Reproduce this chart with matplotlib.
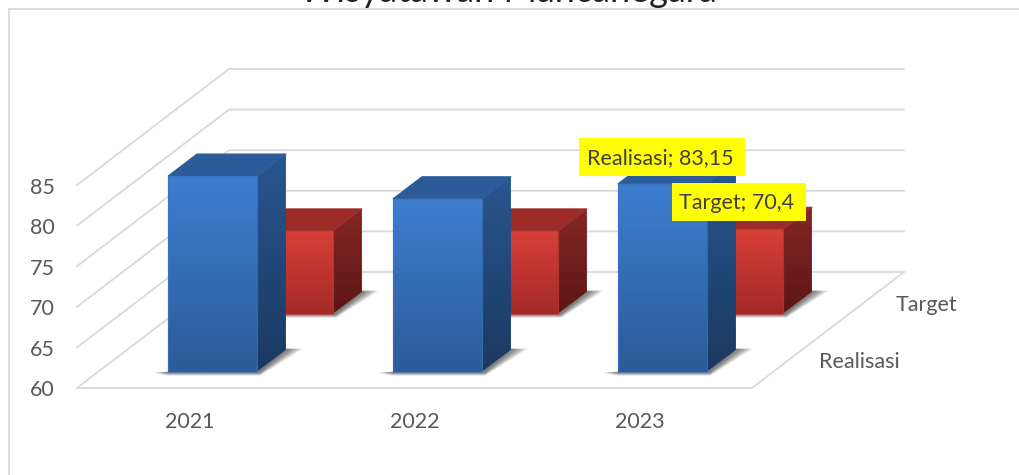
import numpy as np
import matplotlib
matplotlib.use('Agg')
import matplotlib.pyplot as plt
from matplotlib.patches import Polygon, Rectangle

plt.rcParams['font.family'] = ['Lato', 'DejaVu Sans']

years = ['2021', '2022', '2023']
realisasi = [84.1, 81.3, 83.15]
target = [70.2, 70.2, 70.4]
series_names = ['Realisasi', 'Target']
y_ticks = [60, 65, 70, 75, 80, 85]

# oblique 3d box -> pixels
X0, Y0 = 77, 388
CAT_W = 225
PX_PER_UNIT = 8.12
DEPTH_X, DEPTH_Y = 76, 58
BAR_W = 89 / 225
BAR_D = 22 / 58


def proj(cat, val, depth):
    x = X0 + cat * CAT_W + depth * DEPTH_X
    y = Y0 - (val - y_ticks[0]) * PX_PER_UNIT - depth * DEPTH_Y
    return x, y


def grad_poly(ax, pts, c_top, c_bot, z):
    pts = np.array(pts)
    top = np.array(matplotlib.colors.to_rgb(c_top))
    bot = np.array(matplotlib.colors.to_rgb(c_bot))
    t = np.linspace(0, 1, 64)[:, None, None]
    img = top[None, None, :] * (1 - t) + bot[None, None, :] * t
    im = ax.imshow(img, extent=(pts[:, 0].min(), pts[:, 0].max(), pts[:, 1].max(), pts[:, 1].min()),
                   aspect='auto', zorder=z, interpolation='bilinear')
    clip = Polygon(pts, closed=True, transform=ax.transData, fc='none', ec='none')
    ax.add_patch(clip)
    im.set_clip_path(clip)


def bar(ax, i, val, slot, cols, z):
    c0 = i + 0.5 - BAR_W / 2 + 0.008
    c1 = c0 + BAR_W
    d0 = slot + (1 - BAR_D) / 2 - 0.03
    d1 = d0 + BAR_D
    v0 = y_ticks[0]

    # shadow on the floor, a few soft layers
    a = proj(c1, v0, d0)
    b = proj(c1, v0, d1)
    l = proj(c0, v0, d0)
    for k in np.linspace(1, 0.1, 12):
        ax.add_patch(Polygon([a, (b[0], b[1] - 1), (b[0] + 17 * k, b[1] - 1), (a[0] + 3, a[1] + 4 * k),
                              (l[0], l[1] + 4 * k), (l[0] - 16 * k, l[1] + 1 * k), l],
                             fc='#303030', ec='none', alpha=0.075, zorder=z))

    # side, top, front
    grad_poly(ax, [proj(c1, v0, d0), proj(c1, v0, d1), proj(c1, val, d1), proj(c1, val, d0)],
              cols['side_top'], cols['side_bot'], z + 0.1)
    ax.add_patch(Polygon([proj(c0, val, d0), proj(c1, val, d0), proj(c1, val, d1), proj(c0, val, d1)],
                         fc=cols['top'], ec=cols['top'], lw=0.8, joinstyle='round', zorder=z + 0.2))
    grad_poly(ax, [proj(c0, v0, d0), proj(c1, v0, d0), proj(c1, val, d0), proj(c0, val, d0)],
              cols['front_top'], cols['front_bot'], z + 0.3)
    # bevel edge on the front face
    ax.add_patch(Polygon([proj(c0, v0, d0), proj(c1, v0, d0), proj(c1, val, d0), proj(c0, val, d0)],
                         fc='none', ec=cols['edge'], lw=0.9, alpha=0.7, joinstyle='round', zorder=z + 0.4))


fig = plt.figure(figsize=(10.19, 4.75), dpi=100)
ax = fig.add_axes([0, 0, 1, 1])
ax.set_xlim(0, 1019)
ax.set_ylim(475, 0)
ax.axis('off')

grid = '#d9d9d9'
ax.plot([9, 9], [475, 8.5], color=grid, lw=1.3, zorder=1)
ax.plot([9, 1019], [8.5, 8.5], color=grid, lw=1.3, zorder=1)

# walls and floor
for v in y_ticks:
    pts = [proj(0, v, 0), proj(0, v, 2), proj(3, v, 2)]
    ax.plot(*zip(*pts), color=grid, lw=1.3, zorder=2)
ax.plot(*zip(proj(0, 60, 0), proj(3, 60, 0), proj(3, 60, 2)), color=grid, lw=1.3, zorder=2)

blue = dict(front_top='#3d7ecf', front_bot='#2c5b98', side_top='#28568f', side_bot='#1a3961',
            top='#2b5c99', edge='#3a74bd')
red = dict(front_top='#d83f39', front_bot='#a32a27', side_top='#842725', side_bot='#5c1614',
           top='#9d2b28', edge='#c23530')

for i, v in enumerate(target):
    bar(ax, i, v, 1, red, 3 + i)
for i, v in enumerate(realisasi):
    bar(ax, i, v, 0, blue, 7 + i)

txt = '#595959'
fs = 15.5
for v in y_ticks:
    x, y = proj(0, v, 0)
    ax.text(55, y + 2.5, str(v), ha='right', va='center', fontsize=fs, color=txt, zorder=20)
for i, yr in enumerate(years):
    x, y = proj(i + 0.5, 60, 0)
    ax.text(x, 422, yr, ha='center', va='center', fontsize=fs, color=txt, zorder=20)
ax.text(859, 362, series_names[0], ha='center', va='center', fontsize=fs, color=txt, zorder=20)
ax.text(926, 305, series_names[1], ha='center', va='center', fontsize=fs, color=txt, zorder=20)

# highlighted data labels for 2023
for name, val, (x0, y0, x1, y1) in [(series_names[0], realisasi[2], (579, 138, 745, 176)),
                                    (series_names[1], target[2], (672, 183, 806, 221))]:
    ax.add_patch(Rectangle((x0, y0), x1 - x0, y1 - y0, fc='#ffff00', ec='none', zorder=30))
    label = f'{name}; {val:g}'.replace('.', ',')
    ax.text((x0 + x1) / 2 - 2, (y0 + y1) / 2 + 1, label, ha='center', va='center',
            fontsize=fs, color='#404040', zorder=31)

# title is cut off by the top of the picture
ax.text(508, 1.5, 'Wisyatawan Mancanegara', ha='center', va='baseline', fontsize=26, color='#222222',
        zorder=20, clip_on=True)

ax.set_xlim(0, 1019)
ax.set_ylim(475, 0)
fig.savefig('out.png', dpi=100, facecolor='white')
